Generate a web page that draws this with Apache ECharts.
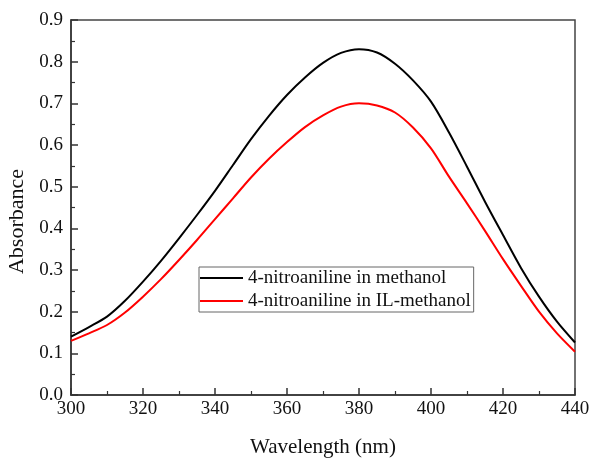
<!DOCTYPE html>
<html>
<head>
<meta charset="utf-8">
<script src="https://cdn.jsdelivr.net/npm/echarts@6/dist/echarts.min.js"></script>
<style>html,body{margin:0;padding:0;background:#fff}#c{width:590px;height:459px}</style>
</head>
<body>
<div id="c"></div>
<script>
const wavelengths = [300,305,310,315,320,325,330,335,340,345,350,355,360,365,370,375,380,385,390,395,400,405,410,415,420,425,430,435,440];
const methanol = [0.140,0.163,0.188,0.226,0.272,0.322,0.376,0.432,0.490,0.552,0.614,0.670,0.720,0.762,0.797,0.821,0.830,0.822,0.795,0.755,0.704,0.630,0.548,0.464,0.384,0.305,0.236,0.176,0.126];
const ilMethanol = [0.130,0.148,0.168,0.198,0.236,0.278,0.324,0.372,0.422,0.472,0.522,0.567,0.607,0.643,0.671,0.692,0.700,0.695,0.678,0.642,0.592,0.524,0.460,0.394,0.326,0.262,0.200,0.148,0.104];
const seriesNames = ['4-nitroaniline in methanol','4-nitroaniline in IL-methanol'];
const xTitle = 'Wavelength (nm)';
const yTitle = 'Absorbance';

const font = '"Liberation Serif","Times New Roman",serif';
const chart = echarts.init(document.getElementById('c'), null, {renderer:'canvas'});
const axisCommon = {
  axisLine:{show:true,lineStyle:{color:'#333',width:1.5}},
  axisTick:{show:true,inside:true,length:7,lineStyle:{color:'#333',width:1.5}},
  minorTick:{show:true,splitNumber:2,length:4,lineStyle:{color:'#333',width:1.2}},
  splitLine:{show:false},
  axisLabel:{fontFamily:font,fontSize:19,color:'#111'}
};
chart.setOption({
  animation:false,
  backgroundColor:'#fff',
  grid:{left:71,right:15,top:20,bottom:64,show:true,borderColor:'#444',borderWidth:1.5,
        containLabel:false,outerBoundsMode:'none'},
  legend:{
    data:seriesNames.map((n,i)=>({name:n,icon:'rect',itemStyle:{color:i===0?'#000':'#ff0000'}})),
    orient:'vertical',left:199,top:267,
    borderColor:'#666',borderWidth:1,padding:[0,3,0,1],
    itemWidth:43,itemHeight:2,itemGap:1,
    textStyle:{fontFamily:font,fontSize:19,color:'#111',lineHeight:22}
  },
  xAxis:Object.assign({},axisCommon,{
    type:'value',min:300,max:440,interval:20,
    name:xTitle,nameLocation:'middle',nameGap:42,
    nameTextStyle:{fontFamily:font,fontSize:21,color:'#111'},
    axisLabel:Object.assign({},axisCommon.axisLabel,{margin:5})
  }),
  yAxis:Object.assign({},axisCommon,{
    type:'value',min:0,max:0.9,interval:0.1,
    name:yTitle,nameLocation:'middle',nameGap:38,
    nameTextStyle:{fontFamily:font,fontSize:22,color:'#111',padding:[0,28,0,0]},
    axisLabel:Object.assign({},axisCommon.axisLabel,{margin:8,formatter:v=>v.toFixed(1)})
  }),
  series:[
    {name:seriesNames[0],type:'line',symbol:'none',smooth:0.3,
     lineStyle:{color:'#000',width:2},itemStyle:{color:'#000'},
     data:wavelengths.map((w,i)=>[w,methanol[i]])},
    {name:seriesNames[1],type:'line',symbol:'none',smooth:0.3,
     lineStyle:{color:'#ff0000',width:2},itemStyle:{color:'#ff0000'},
     data:wavelengths.map((w,i)=>[w,ilMethanol[i]])}
  ]
});
</script>
</body>
</html>
